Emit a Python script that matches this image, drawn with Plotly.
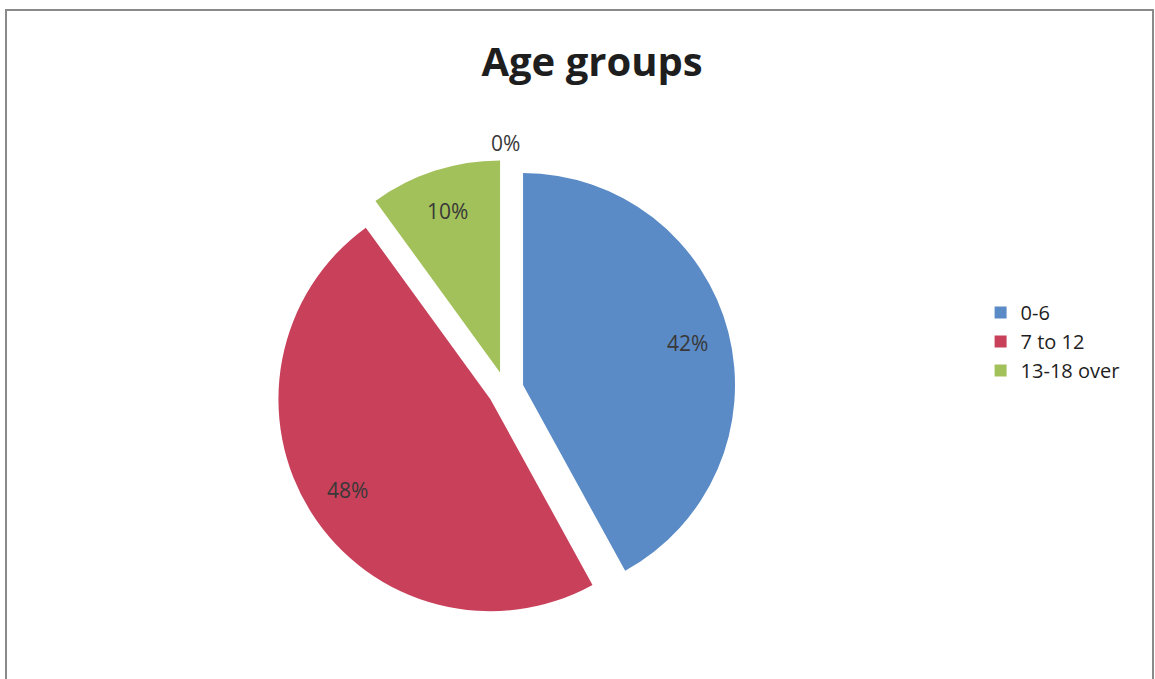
import math
import plotly.graph_objects as go

# Age group shares (the last category is an empty row)
categories = ["0-6", "7 to 12", "13-18 over", " "]
values = [42, 48, 10, 0]
colors = ["#5B8BC6", "#C8405A", "#A3C15A", "#FFFFFF"]

W, H = 1155, 679
PULL = 0.085
DOM_X = [0.2386, 0.6369]
DOM_Y = [0.0876, 0.765]

fig = go.Figure(
    go.Pie(
        labels=categories,
        values=values,
        sort=False,
        direction="clockwise",
        rotation=0,
        pull=[PULL] * len(values),
        marker=dict(colors=colors, line=dict(width=0)),
        textinfo="none",
        domain=dict(x=DOM_X, y=DOM_Y),
        hoverinfo="label+percent",
    )
)

# Percentage labels placed near the outer end of each slice (outside for empty slices)
w_px = (DOM_X[1] - DOM_X[0]) * W
h_px = (DOM_Y[1] - DOM_Y[0]) * H
cx = (DOM_X[0] + DOM_X[1]) / 2 * W
cy = (1 - (DOM_Y[0] + DOM_Y[1]) / 2) * H
radius = min(w_px, h_px) / 2 / (1 + PULL)
total = sum(values)
start = 0.0
annotations = []
for v in values:
    frac = v / total
    mid = math.radians((start + frac / 2) * 360)
    start += frac
    k = PULL + (0.8 if v > 0 else 1.08)
    x = cx + k * radius * math.sin(mid)
    y = cy - k * radius * math.cos(mid)
    annotations.append(
        dict(
            x=x / W,
            y=1 - y / H,
            xref="paper",
            yref="paper",
            text=f"{frac:.0%}",
            showarrow=False,
            xanchor="center",
            yanchor="middle",
            font=dict(family="Open Sans", size=21, color="#383838"),
        )
    )

fig.update_layout(
    width=W,
    height=H,
    margin=dict(l=0, r=0, t=0, b=0),
    paper_bgcolor="white",
    plot_bgcolor="white",
    title=dict(
        text="<b>Age groups</b>",
        x=0.5126,
        xanchor="center",
        y=1 - 61.5 / H,
        yanchor="middle",
        font=dict(family="Open Sans", size=40, color="#1E1E1E"),
    ),
    legend=dict(
        x=0.849,
        y=1 - 293 / H,
        xanchor="left",
        yanchor="top",
        font=dict(family="Open Sans", size=20, color="#1E1E1E"),
        bgcolor="rgba(0,0,0,0)",
    ),
    annotations=annotations,
    shapes=[
        dict(
            type="rect",
            xref="paper",
            yref="paper",
            x0=6 / W,
            x1=1153 / W,
            y0=-0.05,
            y1=1 - 10 / H,
            line=dict(color="#8A8A8A", width=2),
            fillcolor="rgba(0,0,0,0)",
        )
    ],
)

fig.write_html("out.html")
